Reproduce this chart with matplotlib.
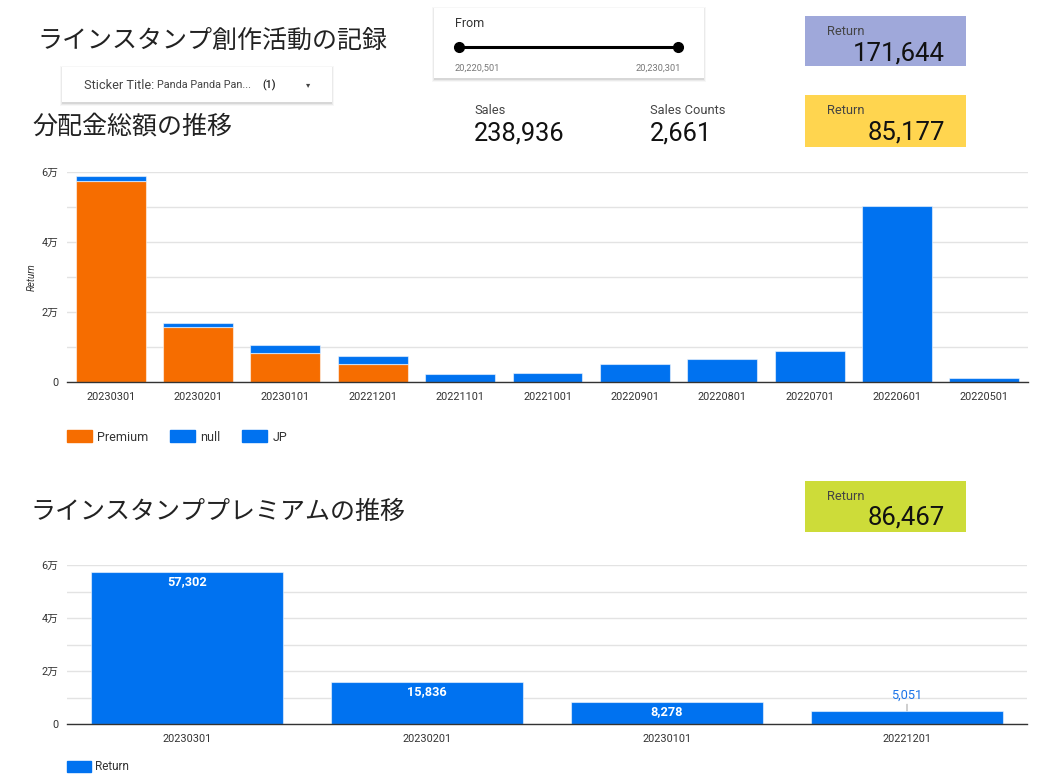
import numpy as np
import matplotlib
matplotlib.use("Agg")
import matplotlib.pyplot as plt
from matplotlib.patches import Rectangle, Patch
from matplotlib.ticker import FuncFormatter, MultipleLocator

plt.rcParams['font.family'] = ['Roboto', 'Noto Sans CJK JP', 'DejaVu Sans']

# ---- data ----
months = ['20230301', '20230201', '20230101', '20221201', '20221101', '20221001',
          '20220901', '20220801', '20220701', '20220601', '20220501']
premium = [57302, 15836, 8278, 5051, 0, 0, 0, 0, 0, 0, 0]
null_part = [0, 0, 0, 0, 0, 0, 0, 0, 0, 0, 0]
jp = [1440, 1020, 2380, 2270, 2170, 2660, 5230, 6570, 8860, 50370, 1140]

prem_months = ['20230301', '20230201', '20230101', '20221201']
prem_return = [57302, 15836, 8278, 5051]

total_return = 171644
jp_return = 85177
premium_return = 86467
sales = 238936
sales_counts = 2661
date_from = 20220501
date_to = 20230301

BLUE = '#0072f0'
ORANGE = '#f66d00'
W, H = 1057, 784
JP_FONT = ['Noto Sans CJK JP', 'DejaVu Sans']

fig = plt.figure(figsize=(W / 100, H / 100), dpi=100)
fig.patch.set_facecolor('white')

# overlay in pixel coordinates for cards / controls
ov = fig.add_axes([0, 0, 1, 1])
ov.set_xlim(0, W)
ov.set_ylim(H, 0)
ov.axis('off')


def shadow_box(x0, y0, x1, y1):
    # soft drop shadow, mostly below the box
    for d, a in [(3, 0.03), (2, 0.05), (1, 0.08)]:
        ov.add_patch(Rectangle((x0 - d + 1, y0 - d + 2), x1 - x0 + 2 * d - 2, y1 - y0 + 2 * d - 1,
                               facecolor='black', alpha=a, edgecolor='none'))
    ov.add_patch(Rectangle((x0, y0), x1 - x0, y1 - y0, facecolor='white', edgecolor='none'))


def card(x0, y0, x1, y1, color, label, value):
    ov.add_patch(Rectangle((x0, y0), x1 - x0, y1 - y0, facecolor=color, edgecolor='none'))
    ov.text(x0 + 22, y0 + 15, label, fontsize=9.3, color='#444444', va='center')
    ov.text(x1 - 21, y0 + 37, f'{value:,}', fontsize=18.5, color='#111111', va='center', ha='right')


# titles
ov.text(37, 41, 'ラインスタンプ創作活動の記録', fontsize=18, color='#222222', va='center',
        family=JP_FONT)
ov.text(32, 127, '分配金総額の推移', fontsize=18, color='#222222', va='center',
        family=JP_FONT)
ov.text(30, 512, 'ラインスタンププレミアムの推移', fontsize=18, color='#222222', va='center',
        family=JP_FONT)

# filter control
shadow_box(62, 67, 332, 102)
ov.text(84, 85, 'Sticker Title:', fontsize=9.2, color='#444444', va='center')
ov.text(157, 85, 'Panda Panda Pan...', fontsize=7.8, color='#444444', va='center')
ov.text(262, 85, '(1)', fontsize=7.8, color='#222222', va='center', fontweight='medium')
ov.text(308, 85, '▾', fontsize=6, color='#444444', va='center', ha='center',
        family=['DejaVu Sans'])

# date slider
shadow_box(434, 8, 704, 78)
ov.text(455, 23, 'From', fontsize=9, color='#333333', va='center')
ov.plot([459, 678], [47, 47], color='black', lw=2.2, solid_capstyle='butt')
ov.plot([459, 678], [47, 47], 'o', color='black', ms=7)
ov.text(455, 68, f'{date_from:,}', fontsize=6.7, color='#777777', va='center')
ov.text(681, 68, f'{date_to:,}', fontsize=6.7, color='#777777', va='center', ha='right')

# scorecards
card(805, 16, 966, 66, '#9fa8da', 'Return', total_return)
card(805, 95, 966, 147, '#ffd54f', 'Return', jp_return)
card(805, 481, 966, 532, '#cddc39', 'Return', premium_return)

ov.text(474, 110, 'Sales', fontsize=9.3, color='#444444', va='center')
ov.text(474, 133, f'{sales:,}', fontsize=18.3, color='#111111', va='center')
ov.text(650, 110, 'Sales Counts', fontsize=9.3, color='#444444', va='center')
ov.text(650, 133, f'{sales_counts:,}', fontsize=18.3, color='#111111', va='center')


def man_fmt(v, pos):
    return '0' if v == 0 else f'{int(v / 10000)}万'


def style_axis(ax):
    ax.set_ylim(0, 60000)
    ax.yaxis.set_major_locator(MultipleLocator(20000))
    ax.yaxis.set_minor_locator(MultipleLocator(10000))
    ax.yaxis.set_major_formatter(FuncFormatter(man_fmt))
    ax.grid(True, which='both', axis='y', color='#e3e3e3', lw=1)
    ax.set_axisbelow(True)
    for s in ['top', 'right', 'left']:
        ax.spines[s].set_visible(False)
    ax.spines['bottom'].set_color('#333333')
    ax.spines['bottom'].set_linewidth(1)
    ax.tick_params(axis='both', which='both', length=0, labelsize=7.8, colors='#333333')
    ax.tick_params(axis='y', pad=6)
    ax.tick_params(axis='x', pad=7)


# ---- top chart: stacked return by month ----
ax1 = fig.add_axes([67 / W, 1 - 382 / H, 961 / W, 210 / H])
x = np.arange(len(months))
edge = dict(edgecolor=(1, 1, 1, 0.55), linewidth=0.8)
ax1.bar(x, premium, width=0.8, color=ORANGE, **edge)
bottom = np.array(premium)
ax1.bar(x, null_part, width=0.8, bottom=bottom, color=BLUE, **edge)
bottom = bottom + np.array(null_part)
ax1.bar(x, jp, width=0.8, bottom=bottom, color=BLUE, **edge)
ax1.set_xlim(-0.5, len(months) - 0.5)
ax1.set_xticks(x)
ax1.set_xticklabels(months)
style_axis(ax1)
ax1.set_ylabel('Return', fontsize=7, style='italic', color='#333333')
ax1.yaxis.set_label_coords(-0.031, 0.5)

fig.legend(handles=[Patch(color=ORANGE, label='Premium'), Patch(color=BLUE, label='null'),
                    Patch(color=BLUE, label='JP')],
           loc='center left', bbox_to_anchor=(67 / W, 1 - 437 / H), ncol=3, frameon=False,
           fontsize=9, handlelength=2.0, handleheight=1.05, handletextpad=0.4,
           columnspacing=1.75, borderpad=0, borderaxespad=0, labelcolor='#333333')

# ---- bottom chart: premium return ----
ax2 = fig.add_axes([67 / W, 1 - 724.3 / H, 960 / W, 159.3 / H])
x2 = np.arange(len(prem_months))
bars = ax2.bar(x2, prem_return, width=0.8, color=BLUE, **edge)
ax2.set_xlim(-0.5, len(prem_months) - 0.5)
ax2.set_xticks(x2)
ax2.set_xticklabels(prem_months)
style_axis(ax2)
for b, v in zip(bars, prem_return):
    cx = b.get_x() + b.get_width() / 2
    if v > 7000:
        ax2.annotate(f'{v:,}', (cx, v), xytext=(0, -6.5), textcoords='offset points',
                     ha='center', va='center', fontsize=9.2, color='white', fontweight='bold')
    else:
        ax2.annotate(f'{v:,}', (cx, v), xytext=(0, 11.5), textcoords='offset points',
                     ha='center', va='center', fontsize=9.2, color='#1a73e8',
                     arrowprops=dict(arrowstyle='-', color='#9e9e9e', lw=0.7,
                                     shrinkA=0, shrinkB=0))

fig.legend(handles=[Patch(color=BLUE, label='Return')],
           loc='center left', bbox_to_anchor=(67 / W, 1 - 767 / H), frameon=False,
           fontsize=8.5, handlelength=2.0, handleheight=1.05, handletextpad=0.4,
           borderpad=0, borderaxespad=0, labelcolor='#333333')

fig.savefig('out.png', dpi=100, facecolor='white')
